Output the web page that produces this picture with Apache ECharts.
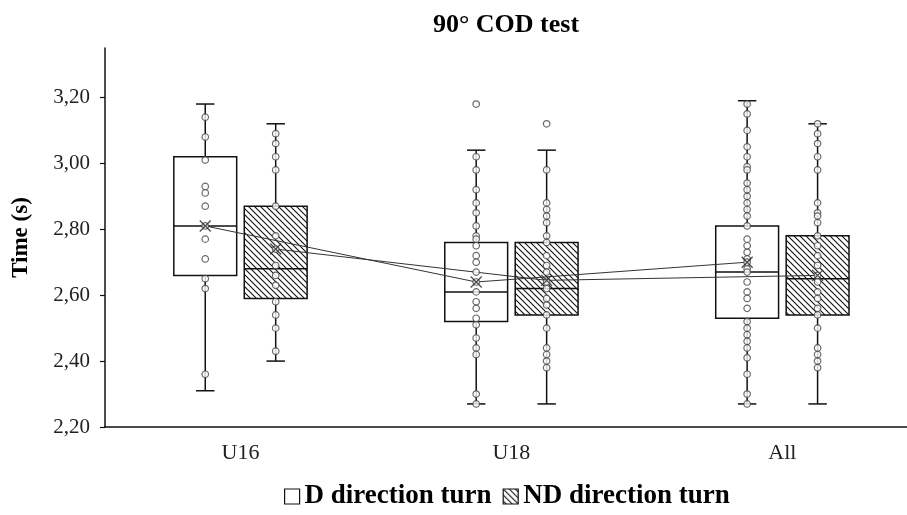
<!DOCTYPE html>
<html>
<head>
<meta charset="utf-8">
<script src="https://cdn.jsdelivr.net/npm/echarts@6/dist/echarts.min.js"></script>
<style>
  html, body { margin: 0; padding: 0; background: #fff; }
  #main { width: 907px; height: 515px; }
</style>
</head>
<body>
<div id="main"></div>
<script>
const categories = ['U16', 'U18', 'All']
const yTicks = [2.2, 2.4, 2.6, 2.8, 3.0, 3.2]

// [min, Q1, median, Q3, max]
const dBox = [
  [2.31, 2.66, 2.81, 3.02, 3.18],
  [2.27, 2.52, 2.61, 2.76, 3.04],
  [2.27, 2.53, 2.67, 2.81, 3.19]
]
const ndBox = [
  [2.40, 2.59, 2.68, 2.87, 3.12],
  [2.27, 2.54, 2.62, 2.76, 3.04],
  [2.27, 2.54, 2.65, 2.78, 3.12]
]
const dMean = [2.81, 2.64, 2.70]
const ndMean = [2.74, 2.645, 2.66]

const dPoints = [
  [3.14, 3.08, 3.01, 2.93, 2.91, 2.87, 2.81, 2.77, 2.71, 2.65, 2.62, 2.36],
  [3.18, 3.02, 2.98, 2.92, 2.88, 2.85, 2.81, 2.78, 2.77, 2.75, 2.72, 2.70, 2.67, 2.64, 2.61, 2.58, 2.56, 2.53, 2.51, 2.47, 2.44, 2.42, 2.30, 2.27],
  [3.18, 3.15, 3.10, 3.05, 3.02, 2.99, 2.98, 2.94, 2.92, 2.90, 2.88, 2.86, 2.84, 2.81, 2.77, 2.75, 2.73, 2.71, 2.70, 2.68, 2.67, 2.64, 2.61, 2.59, 2.56, 2.52, 2.50, 2.48, 2.46, 2.44, 2.41, 2.36, 2.30, 2.27]
]
const ndPoints = [
  [3.09, 3.06, 3.02, 2.98, 2.87, 2.78, 2.74, 2.69, 2.66, 2.63, 2.58, 2.54, 2.50, 2.43],
  [3.12, 2.98, 2.88, 2.86, 2.84, 2.82, 2.78, 2.76, 2.72, 2.69, 2.67, 2.64, 2.62, 2.59, 2.57, 2.54, 2.50, 2.44, 2.42, 2.40, 2.38],
  [3.12, 3.09, 3.06, 3.02, 2.98, 2.88, 2.85, 2.84, 2.82, 2.78, 2.75, 2.72, 2.69, 2.66, 2.64, 2.61, 2.59, 2.56, 2.54, 2.50, 2.44, 2.42, 2.40, 2.38]
]

// layout (x axis in category units)
const OFFSET = 0.13
const HALF_BOX = 0.116
const HALF_CAP = 0.034
const FONT = '"Liberation Serif", "Times New Roman", serif'

function makeHatch() {
  const c = document.createElement('canvas')
  c.width = 6
  c.height = 6
  const ctx = c.getContext('2d')
  ctx.fillStyle = '#fff'
  ctx.fillRect(0, 0, 6, 6)
  ctx.strokeStyle = '#111'
  ctx.lineWidth = 1.1
  ctx.beginPath()
  ctx.moveTo(-1, -1); ctx.lineTo(7, 7)
  ctx.moveTo(-1, 5); ctx.lineTo(1, 7)
  ctx.moveTo(5, -1); ctx.lineTo(7, 1)
  ctx.stroke()
  return c
}
const hatch = { image: makeHatch(), repeat: 'repeat' }

const xOf = (i, side) => i + 0.5 + side * OFFSET

function boxData(stats, side) {
  return stats.map((s, i) => [xOf(i, side)].concat(s))
}
function pointData(lists, side) {
  const out = []
  lists.forEach((l, i) => l.forEach(v => out.push([xOf(i, side), v])))
  return out
}
function meanData(means, side) {
  return means.map((m, i) => [xOf(i, side), m])
}

function renderBox(fill) {
  return function (params, api) {
    const x = api.value(0)
    const lo = api.coord([x, api.value(1)])
    const q1 = api.coord([x, api.value(2)])
    const med = api.coord([x, api.value(3)])
    const q3 = api.coord([x, api.value(4)])
    const hi = api.coord([x, api.value(5)])
    const left = api.coord([x - HALF_BOX, 0])[0]
    const right = api.coord([x + HALF_BOX, 0])[0]
    const capL = api.coord([x - HALF_CAP, 0])[0]
    const capR = api.coord([x + HALF_CAP, 0])[0]
    const ls = { stroke: '#111', lineWidth: 1.5 }
    return {
      type: 'group',
      children: [
        { type: 'line', shape: { x1: lo[0], y1: lo[1], x2: q1[0], y2: q1[1] }, style: ls },
        { type: 'line', shape: { x1: q3[0], y1: q3[1], x2: hi[0], y2: hi[1] }, style: ls },
        { type: 'line', shape: { x1: capL, y1: lo[1], x2: capR, y2: lo[1] }, style: ls },
        { type: 'line', shape: { x1: capL, y1: hi[1], x2: capR, y2: hi[1] }, style: ls },
        { type: 'rect', shape: { x: left, y: q3[1], width: right - left, height: q1[1] - q3[1] },
          style: { fill: fill, stroke: '#111', lineWidth: 1.5 } },
        { type: 'line', shape: { x1: left, y1: med[1], x2: right, y2: med[1] }, style: ls }
      ]
    }
  }
}

const xMark = 'path://M0,0L10,10M10,0L0,10'

const chart = echarts.init(document.getElementById('main'), null, { renderer: 'canvas' })

const option = {
  backgroundColor: '#fff',
  animation: false,
  title: {
    text: '90° COD test',
    left: 501,
    top: 7,
    textAlign: 'center',
    textStyle: { fontFamily: FONT, fontWeight: 'bold', fontSize: 26, color: '#000' }
  },
  legend: {
    bottom: 0,
    left: 279,
    itemWidth: 15,
    itemHeight: 15,
    itemGap: 11,
    icon: 'rect',
    textStyle: { fontFamily: FONT, fontWeight: 'bold', fontSize: 27, color: '#000' },
    data: [
      { name: 'D direction turn', itemStyle: { color: '#fff', borderColor: '#111', borderWidth: 1.2 } },
      { name: 'ND direction turn', itemStyle: { color: hatch, borderColor: '#111', borderWidth: 1.2 } }
    ]
  },
  grid: { left: 105, right: 0, top: 48, bottom: 88, outerBoundsMode: 'none' },
  xAxis: {
    type: 'value',
    min: 0,
    max: 2.96,
    splitLine: { show: false },
    axisLine: { lineStyle: { color: '#111', width: 1.5 } },
    axisTick: { show: false },
    axisLabel: {
      customValues: [0.5, 1.5, 2.5],
      formatter: v => categories[Math.round(v - 0.5)],
      margin: 15,
      fontFamily: FONT,
      fontSize: 22,
      color: '#222'
    }
  },
  yAxis: {
    type: 'value',
    min: 2.2,
    max: 3.35,
    interval: 0.2,
    name: 'Time (s)',
    nameLocation: 'middle',
    nameGap: 72,
    nameTextStyle: { fontFamily: FONT, fontWeight: 'bold', fontSize: 23, color: '#000' },
    splitLine: { show: false },
    axisLine: { show: true, lineStyle: { color: '#111', width: 1.5 } },
    axisTick: { show: true, customValues: yTicks, length: 5, lineStyle: { color: '#111', width: 1.2 } },
    axisLabel: {
      customValues: yTicks,
      formatter: v => v.toFixed(2).replace('.', ','),
      margin: 15,
      fontFamily: FONT,
      fontSize: 21,
      color: '#222'
    }
  },
  series: [
    {
      name: 'D direction turn',
      type: 'custom',
      renderItem: renderBox('#fff'),
      encode: { x: 0, y: [1, 2, 3, 4, 5] },
      itemStyle: { color: '#fff' },
      data: boxData(dBox, -1)
    },
    {
      name: 'ND direction turn',
      type: 'custom',
      renderItem: renderBox(hatch),
      encode: { x: 0, y: [1, 2, 3, 4, 5] },
      itemStyle: { color: hatch },
      data: boxData(ndBox, 1)
    },
    {
      name: 'D mean',
      type: 'line',
      data: meanData(dMean, -1),
      lineStyle: { color: '#333', width: 1 },
      symbol: 'none',
      z: 3
    },
    {
      name: 'ND mean',
      type: 'line',
      data: meanData(ndMean, 1),
      lineStyle: { color: '#333', width: 1 },
      symbol: 'none',
      z: 3
    },
    {
      name: 'D values',
      type: 'scatter',
      data: pointData(dPoints, -1),
      symbol: 'circle',
      symbolSize: 6.5,
      itemStyle: { color: '#fff', borderColor: '#444', borderWidth: 1.2 },
      z: 4
    },
    {
      name: 'ND values',
      type: 'scatter',
      data: pointData(ndPoints, 1),
      symbol: 'circle',
      symbolSize: 6.5,
      itemStyle: { color: '#fff', borderColor: '#444', borderWidth: 1.2 },
      z: 4
    },
    {
      name: 'D mean mark',
      type: 'scatter',
      data: meanData(dMean, -1),
      symbol: xMark,
      symbolSize: 11,
      itemStyle: { color: 'rgba(0,0,0,0)', borderColor: '#222', borderWidth: 1.3 },
      z: 5
    },
    {
      name: 'ND mean mark',
      type: 'scatter',
      data: meanData(ndMean, 1),
      symbol: xMark,
      symbolSize: 11,
      itemStyle: { color: 'rgba(0,0,0,0)', borderColor: '#222', borderWidth: 1.3 },
      z: 5
    }
  ]
}

chart.setOption(option)
window.onresize = () => {
  chart.resize()
}
</script>
</body>
</html>
